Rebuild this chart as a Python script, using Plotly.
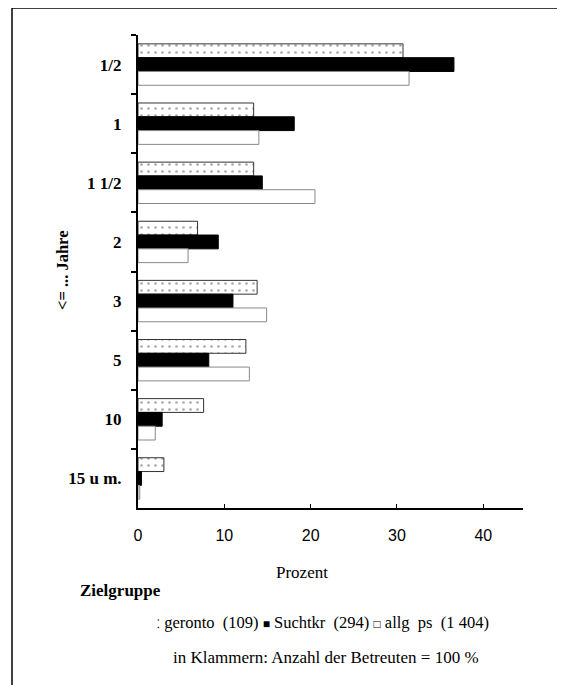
import plotly.graph_objects as go

categories = ["1/2", "1", "1 1/2", "2", "3", "5", "10", "15 u m."]
geronto = [30.7, 13.4, 13.4, 6.9, 13.8, 12.5, 7.6, 3.0]
suchtkr = [36.6, 18.1, 14.4, 9.3, 11.0, 8.2, 2.8, 0.4]
allg_ps = [31.4, 14.0, 20.5, 5.8, 14.9, 12.9, 2.0, 0.2]
series_names = ["geronto  (109)", "Suchtkr  (294)", "allg  ps  (1 404)"]
legend_symbols = ["⁚", "■", "□"]
x_ticks = [0, 10, 20, 30, 40]

SERIF = "Liberation Serif"
SANS = "Liberation Sans"

fig = go.Figure()
fig.add_trace(go.Bar(
    y=categories, x=geronto, orientation="h", name=series_names[0],
    marker=dict(color="white",
                pattern=dict(shape=".", fgcolor="#555", bgcolor="white", size=7, solidity=0.12),
                line=dict(color="#333", width=1)),
))
fig.add_trace(go.Bar(
    y=categories, x=suchtkr, orientation="h", name=series_names[1],
    marker=dict(color="black", line=dict(color="black", width=1)),
))
fig.add_trace(go.Bar(
    y=categories, x=allg_ps, orientation="h", name=series_names[2],
    marker=dict(color="white", line=dict(color="#888", width=1)),
))

# page has an 8px body margin; figure is placed at (8, 8)
O = 8
W, H = 565 - O, 685 - O
L, R, T, B = 138 - O, 565 - 523, 35 - O, 685 - 508
pw, ph = W - L - R, H - T - B

def px(xp):
    return (xp - O - L) / pw

def py(yp):
    return (H - B - (yp - O)) / ph

legend_text = " ".join(
    f"<span style='font-size:12px'>{s}</span> {n}" for s, n in zip(legend_symbols, series_names)
)

fig.update_layout(
    width=W, height=H,
    margin=dict(l=L, r=R, t=T, b=B, pad=0, autoexpand=False),
    paper_bgcolor="white", plot_bgcolor="white",
    barmode="group", bargap=0.3, bargroupgap=0,
    font=dict(family=SERIF, color="black", size=16),
    showlegend=False,
    xaxis=dict(range=[0, 44.6], tickvals=x_ticks, ticktext=[str(v) for v in x_ticks],
               showgrid=False, zeroline=False, showline=True, linecolor="black", linewidth=1.5,
               ticks="inside", ticklen=4, tickcolor="black", automargin=False,
               tickfont=dict(family=SANS, size=16), ticklabelstandoff=12),
    yaxis=dict(autorange="reversed", type="category", showgrid=False, zeroline=False,
               showline=True, linecolor="black", linewidth=2, automargin=False,
               ticks="outside", tickson="boundaries", ticklen=5, tickcolor="black", tickwidth=1.5,
               tickfont=dict(family=SERIF, size=17, weight="bold"), ticklabelstandoff=11),
    annotations=[
        dict(text="Prozent", x=px(302), y=py(572), xref="paper", yref="paper",
             showarrow=False, font=dict(family=SERIF, size=17), xanchor="center", yanchor="middle"),
        dict(text="<= ... Jahre", x=px(62), y=py(271), xref="paper", yref="paper",
             showarrow=False, textangle=-90, font=dict(family=SERIF, size=16.5, weight="bold"),
             xanchor="center", yanchor="middle"),
        dict(text="<b>Zielgruppe</b>", x=px(78), y=py(590), xref="paper", yref="paper",
             showarrow=False, font=dict(family=SERIF, size=17), xanchor="left", yanchor="middle"),
        dict(text=legend_text, x=px(155), y=py(622), xref="paper", yref="paper",
             showarrow=False, font=dict(family=SERIF, size=16.5), xanchor="left", yanchor="middle"),
        dict(text="in Klammern: Anzahl der Betreuten = 100 %", x=px(171), y=py(657),
             xref="paper", yref="paper", showarrow=False,
             font=dict(family=SERIF, size=17), xanchor="left", yanchor="middle"),
    ],
    shapes=[
        dict(type="line", xref="paper", yref="paper", x0=px(12), x1=px(565), y0=py(8), y1=py(8),
             line=dict(color="black", width=1.5)),
        dict(type="line", xref="paper", yref="paper", x0=px(12), x1=px(12), y0=py(8), y1=py(685),
             line=dict(color="black", width=1.5)),
    ],
)

fig.write_html("out.html")
